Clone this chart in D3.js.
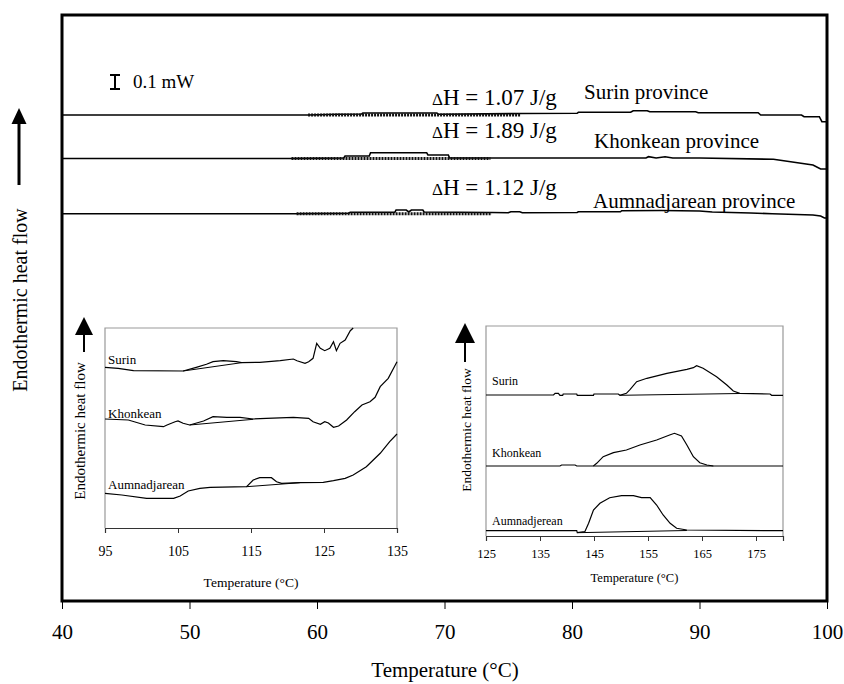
<!DOCTYPE html>
<html><head><meta charset="utf-8">
<script src="https://cdn.jsdelivr.net/npm/d3@7"></script>
<style>body{margin:0;background:#fff}svg{display:block}text{font-family:"Liberation Serif","Times New Roman",serif;fill:#000}</style>
</head><body><svg id="c" width="844" height="684"></svg>
<script>
// ---------- DATA ----------
const mainTicks = [40, 50, 60, 70, 80, 90, 100];
const mainSeriesNames = ["Surin province", "Khonkean province", "Aumnadjarean province"];
const mainEnthalpy = ["1.07", "1.89", "1.12"];
// [temperature °C, heat flow (arbitrary offset units; 14 units = 0.1 mW)]
const mainSurin = [[40,486],[59.3,486],[61.6,486.8],[63.5,487],[63.6,488],[69.4,488],[69.5,486.8],[76,487.5],[80.4,487.7],[80.5,488.7],[84.6,488.7],[84.8,490.3],[85.9,490.3],[86.1,489.3],[89.7,489.3],[89.9,488.3],[94.6,488.3],[94.8,486],[98,486],[98.2,484.3],[99.4,484.3],[99.6,479.3],[100,479.3]];
const mainKhonkean = [[40,442.5],[58,442.5],[62.1,443],[62.2,445],[64.1,445],[64.2,448.3],[68.6,448.3],[68.7,446],[70.3,446],[70.4,443],[76,443],[85.8,443],[86,444.3],[86.6,443],[87.3,444.3],[87.9,443],[90,443],[95.8,441.7],[98.9,436],[99.5,432],[100,432]];
const mainAumnad = [[40,387.3],[58.4,387.3],[62.5,387.8],[62.6,388.7],[66.1,388.7],[66.2,391],[67,391],[67.2,389],[67.4,391],[68.3,391],[68.4,389],[73.7,388.5],[75,388.2],[75.2,389.2],[75.9,389.2],[76.1,388.2],[80.4,388.5],[80.5,389.2],[83.8,389.2],[83.9,390.3],[87,390.5],[90,390],[91,389],[94,388],[95.7,387.3],[98.9,386],[99.5,385],[99.8,383],[100,383]];
const mainBaselines = [[[59.3,486],[76,486]],[[58,442.5],[73.6,442.5]],[[58.4,387.3],[73.7,387.3]]];
const scaleBarValue = 14; // units spanned by 0.1 mW

const insetLTicks = [95, 105, 115, 125, 135];
const insetLNames = ["Surin", "Khonkean", "Aumnadjarean"];
const insetLSurin = [[95,160.7],[96.8,159.7],[98.9,157.3],[105.7,157],[107.5,160.7],[108.9,163.7],[109.8,166.3],[111.2,167.3],[113,166.3],[113.7,165.3],[116.2,165.7],[119,167.3],[120.8,169],[121.3,167.3],[122.4,164.7],[122.9,166.3],[123.5,169.7],[124,184.7],[124.5,179.7],[125.1,177.3],[125.8,179.7],[126.3,186.3],[126.7,177.3],[127.2,184.7],[127.9,188],[128.6,197.3],[129,200]];
const insetLKhonkean = [[95,109],[98.2,108],[100.5,103],[103,101.3],[103.5,103],[104.6,106.3],[105,107],[105.7,104.7],[106.6,103],[108.5,107],[109.8,111.3],[111.7,110.7],[113.5,110.7],[115.3,109],[117.1,109.7],[120.8,110.7],[122.9,109.7],[123.5,106.3],[124.5,103.7],[125.1,106.3],[125.6,105],[126.3,100.7],[127,102],[128.1,108],[129.2,116.3],[130.2,123],[131.3,126.3],[132,130.7],[132.7,141.3],[133.8,149.7],[135,166.3]];
const insetLAumnad = [[95,34.7],[97.3,33],[100.7,29.7],[104.4,29.7],[105.3,32],[106.4,37],[108,39.7],[109.4,40.7],[114.4,41.3],[115.3,48],[116.2,50.3],[117.8,50.3],[118.5,46.3],[119.2,44.7],[121.7,45.3],[124.9,45.7],[126.3,47.3],[127.9,49.7],[129,53],[130.8,61.3],[132.7,74.7],[134,86.3],[135,94]];
const insetLBaselines = [[[105.7,157],[113.7,165.3]],[[106.6,103],[115.3,108.7]],[[114.4,41.3],[121.7,45.3]]];

const insetRTicks = [125, 135, 145, 155, 165, 175];
const insetRNames = ["Surin", "Khonkean", "Aumnadjerean"];
const insetRSurin = [[125,141],[137.5,141],[137.8,142.7],[138.4,142.7],[138.7,140.7],[139.2,140.7],[139.3,142],[141.8,142],[141.9,140.7],[144.9,140.7],[145,142],[149.5,142],[149.8,140.7],[151,142.7],[151.7,146.7],[152.9,154.3],[154.8,157.7],[158.5,162.7],[162.2,166.7],[163.4,168.3],[164,170.3],[165.2,167.7],[167.7,159.3],[169.6,151],[170.8,145],[172,142.7],[177.6,142],[177.9,140.7],[180,140.7]];
const insetRKhonkean = [[125,70],[138.7,70],[139,71],[141.5,71],[141.8,70],[144.9,70],[145.5,72.7],[146.7,79.3],[148.6,83.3],[151,86],[153.5,91],[156.6,96],[159,101],[159.9,102.7],[161.2,100],[162.2,91],[163.4,79.3],[164.6,73.3],[165.9,71],[167.1,70],[180,70]];
const insetRAumnad = [[125,5.3],[141.8,5.3],[141.9,3.3],[143.3,4.3],[144,12.7],[144.9,26],[146.1,32.7],[147.9,38.3],[150.1,40.3],[152.3,40.3],[153.8,38.3],[155.4,38.3],[156.6,31],[157.8,21],[159.1,12.7],[160.3,7.7],[162.2,6],[180,5.3]];
const insetRBaselines = [[[149.8,140.7],[172,142.5]],[[144.9,70],[167.1,70]],[[141.9,3.3],[162.2,5.5]]];

// ---------- DRAW ----------
const svg = d3.select("#c");
const serif = '"Liberation Serif","Times New Roman",serif';

function arrow(g, x, tipY, baseY, bottomY, headW, shaftW) {
  g.append("line").attr("x1", x).attr("x2", x).attr("y1", baseY - 1).attr("y2", bottomY)
    .attr("stroke", "#000").attr("stroke-width", shaftW);
  g.append("path").attr("d", `M${x},${tipY}L${x - headW / 2},${baseY}L${x + headW / 2},${baseY}Z`).attr("fill", "#000");
}

// Main chart
const X = d3.scaleLinear().domain([40, 100]).range([62, 827]);
const Y = d3.scaleLinear().domain([0, 586]).range([601, 15]);
const line = d3.line().x(d => X(d[0])).y(d => Y(d[1]));

svg.append("rect").attr("x", X(40)).attr("y", Y(586)).attr("width", X(100) - X(40)).attr("height", Y(0) - Y(586))
  .attr("fill", "none").attr("stroke", "#000").attr("stroke-width", 3);

const xAxis = svg.append("g").attr("transform", `translate(0,${Y(0)})`)
  .call(d3.axisBottom(X).tickValues(mainTicks).tickSize(8).tickFormat(d3.format("d")));
xAxis.select(".domain").remove();
xAxis.selectAll(".tick line").attr("stroke", "#000").attr("stroke-width", 1);
xAxis.selectAll(".tick text").attr("font-family", serif).attr("font-size", 21).attr("dy", 0).attr("y", 38);

svg.append("text").attr("x", 445).attr("y", 677).attr("text-anchor", "middle").attr("font-size", 21).text("Temperature (°C)");
svg.append("text").attr("transform", "translate(27,300) rotate(-90)").attr("text-anchor", "middle").attr("font-size", 20).text("Endothermic heat flow");
arrow(svg, 19, 108, 124, 185, 15, 3);

[mainSurin, mainKhonkean, mainAumnad].forEach(s => {
  svg.append("path").datum(s).attr("d", line).attr("fill", "none").attr("stroke", "#000").attr("stroke-width", 1.6);
});
mainBaselines.forEach(b => {
  svg.append("path").datum(b).attr("d", line).attr("fill", "none").attr("stroke", "#111").attr("stroke-width", 3).attr("stroke-dasharray", "2,1");
});

// scale bar (0.1 mW)
const sbTop = 75;
const sbLen = Y(0) - Y(scaleBarValue);
const sbX = 115;
const sb = svg.append("g").attr("stroke", "#000").attr("stroke-width", 2);
sb.append("line").attr("x1", sbX).attr("x2", sbX).attr("y1", sbTop).attr("y2", sbTop + sbLen);
sb.append("line").attr("x1", sbX - 5).attr("x2", sbX + 5).attr("y1", sbTop).attr("y2", sbTop);
sb.append("line").attr("x1", sbX - 5).attr("x2", sbX + 5).attr("y1", sbTop + sbLen).attr("y2", sbTop + sbLen);
svg.append("text").attr("x", 133).attr("y", 88).attr("font-size", 19).text("0.1 mW");

const dhY = [105, 138, 195];
const nameY = [99, 148, 208];
const nameX = [584, 594, 593];
mainEnthalpy.forEach((v, i) => {
  const t = svg.append("text").attr("x", 432).attr("y", dhY[i]).attr("font-size", 23);
  t.append("tspan").attr("font-size", 17).text("Δ");
  t.append("tspan").text(`H = ${v} J/g`);
  svg.append("text").attr("x", nameX[i]).attr("y", nameY[i]).attr("font-size", 21).text(mainSeriesNames[i]);
});

// Insets
function inset(cfg) {
  const g = svg.append("g");
  const x = d3.scaleLinear().domain(cfg.xd).range(cfg.xr);
  const y = d3.scaleLinear().domain(cfg.yd).range(cfg.yr);
  const ln = d3.line().x(d => x(d[0])).y(d => y(d[1]));
  g.append("path").attr("d", `M${cfg.xr[0]},${cfg.yr[0]}V${cfg.yr[1]}H${cfg.xr[1]}V${cfg.yr[0]}`)
    .attr("fill", "none").attr("stroke", "#999").attr("stroke-width", 1.2);
  const ax = g.append("g").attr("transform", `translate(0,${cfg.yr[0]})`)
    .call(d3.axisBottom(x).tickValues(cfg.ticks).tickSize(5).tickFormat(d3.format("d")));
  ax.select(".domain").attr("stroke", "#333").attr("stroke-width", 1.2);
  ax.selectAll(".tick line").attr("stroke", "#333");
  ax.selectAll(".tick text").attr("font-family", serif).attr("font-size", cfg.tickFs).attr("dy", 0).attr("y", cfg.tickY);
  g.append("text").attr("x", (cfg.xr[0] + cfg.xr[1]) / 2).attr("y", cfg.titleY).attr("text-anchor", "middle").attr("font-size", cfg.titleFs).text("Temperature (°C)");
  g.append("text").attr("transform", `translate(${cfg.ylx},${cfg.yly}) rotate(-90)`).attr("text-anchor", "middle").attr("font-size", cfg.ylFs).text("Endothermic heat flow");
  arrow(g, cfg.arrow[0], cfg.arrow[1], cfg.arrow[2], cfg.arrow[3], cfg.arrow[4], 2);
  cfg.series.forEach(s => g.append("path").datum(s).attr("d", ln).attr("fill", "none").attr("stroke", "#000").attr("stroke-width", 1.2));
  cfg.baselines.forEach(s => g.append("path").datum(s).attr("d", ln).attr("fill", "none").attr("stroke", "#000").attr("stroke-width", 1));
  cfg.names.forEach((n, i) => g.append("text").attr("x", cfg.nameX).attr("y", cfg.nameY[i]).attr("font-size", cfg.nameFs).text(n));
}

inset({xd: [95, 135], xr: [105, 397], yd: [0, 200], yr: [528, 328], ticks: insetLTicks,
  tickFs: 14, tickY: 28, titleY: 587, titleFs: 13.5, ylx: 85, yly: 431, ylFs: 15,
  arrow: [84, 317, 335, 352, 18], series: [insetLSurin, insetLKhonkean, insetLAumnad], baselines: insetLBaselines,
  names: insetLNames, nameX: 108, nameY: [364, 418, 489], nameFs: 13});

inset({xd: [125, 180], xr: [486, 783], yd: [0, 210], yr: [536, 326], ticks: insetRTicks,
  tickFs: 12.5, tickY: 22, titleY: 582, titleFs: 12.5, ylx: 471, yly: 430, ylFs: 13.5,
  arrow: [465, 323, 343, 362, 20], series: [insetRSurin, insetRKhonkean, insetRAumnad], baselines: insetRBaselines,
  names: insetRNames, nameX: 492, nameY: [385, 457, 525], nameFs: 12});
</script></body></html>
